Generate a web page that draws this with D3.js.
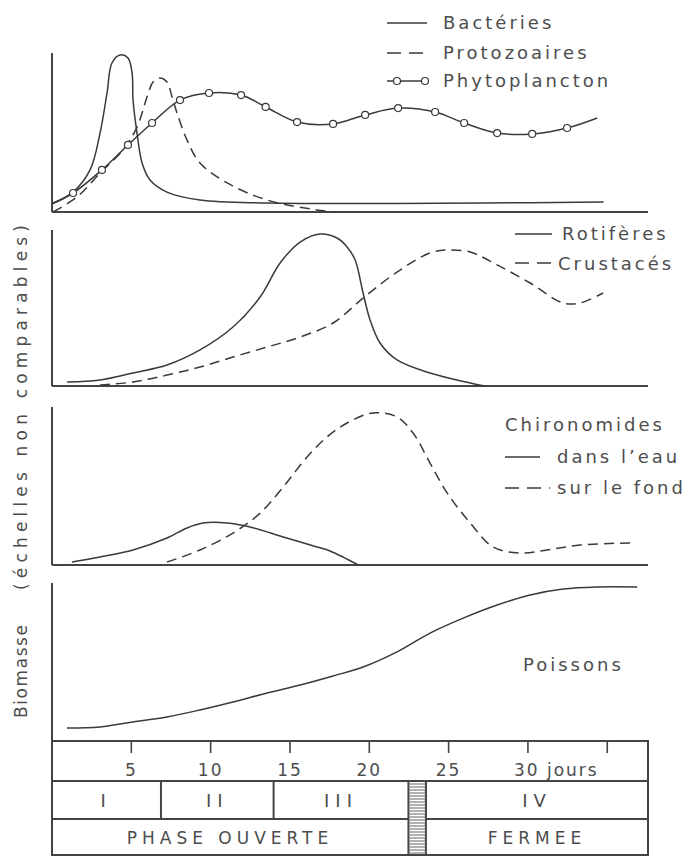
<!DOCTYPE html>
<html>
<head>
<meta charset="utf-8">
<script src="https://cdn.jsdelivr.net/npm/d3@7"></script>
<style>
    body { margin: 0; background: #fff; }
    text { font-family: "DejaVu Sans", sans-serif; fill: #4d4d4d; }
</style>
</head>
<body>
<script>
// data: x = jours, y = arbitrary units (0-100 per panel)
var bacteriesDays = [0.1, 1.36, 2.43, 3.06, 3.5, 3.81, 4.32, 4.82, 5.08, 5.14, 5.39, 5.71, 6.21, 7.28, 9.36, 13.6, 34.8]
  , bacteriesValues = [5.7, 12.7, 26.8, 50.3, 75.8, 94.9, 100, 98.1, 88.5, 71.3, 50.3, 31.2, 20.4, 12.7, 7.6, 5.7, 6.4]
  , protozoairesDays = [0.1, 1.61, 3.06, 4.5, 5.39, 6.02, 6.4, 6.84, 7.28, 7.6, 7.91, 8.54, 9.36, 11.07, 13.6, 16.74, 17.9]
  , protozoairesValues = [0, 9.6, 24.8, 39.5, 54.1, 73.2, 82.8, 85.4, 82.8, 73.2, 63.1, 45.9, 31.2, 18.5, 7.6, 1.3, 0]
  , phytoDays = [0.03, 1.36, 3.18, 4.82, 6.34, 8.1, 9.93, 11.95, 13.5, 15.48, 17.75, 19.77, 21.85, 24.18, 26.01, 28.09, 30.3, 32.5, 34.4]
  , phytoValues = [5.1, 12.1, 26.8, 42.7, 56.7, 71.3, 75.8, 74.5, 66.9, 57.3, 56.1, 61.8, 66.2, 63.7, 56.7, 50.3, 49.7, 53.5, 59.9]
  , rotiferesDays = [0.98, 3.06, 5.14, 7.28, 9.36, 11.44, 13.15, 14.41, 15.67, 16.93, 18.0, 18.63, 19.14, 19.64, 20.08, 20.71, 21.78, 23.86, 26.39, 27.3]
  , rotiferesValues = [2.6, 3.9, 8.4, 13.6, 23.4, 38.3, 57.8, 79.9, 93.5, 98.7, 96.1, 90.3, 81.8, 60.4, 42.9, 27.9, 16.9, 8.4, 1.9, 0]
  , crustacesDays = [3.06, 5.14, 7.28, 9.36, 11.44, 13.59, 15.67, 17.75, 19.64, 21.78, 23.86, 24.94, 26.39, 28.09, 30.17, 32.25, 33.32, 34.77]
  , crustacesValues = [0.6, 2.6, 7.1, 12.3, 18.8, 25.3, 31.8, 40.9, 57.1, 74, 86.4, 88.3, 87, 78.6, 66.9, 53.9, 53.9, 60.4]
  , eauDays = [1.29, 3.06, 5.14, 7.28, 8.54, 9.55, 11.07, 12.52, 14.6, 16.74, 17.56, 19.33]
  , eauValues = [1.9, 5.2, 9.7, 17.4, 23.9, 27.1, 27.1, 24.5, 18.1, 11.6, 9.0, 0]
  , fondDays = [7.28, 9.36, 11.44, 13.15, 14.6, 16.11, 17.37, 18.63, 20.27, 21.78, 22.79, 23.86, 24.94, 26.39, 27.84, 29.54, 31.24, 33.32, 36.47]
  , fondValues = [1.9, 9.7, 20.6, 33.5, 50.3, 69.7, 82.6, 91.6, 98.1, 95.5, 85.2, 65.8, 46.5, 27.1, 11.6, 7.7, 9.7, 12.9, 14.2]
  , poissonsDays = [0.98, 3.06, 5.14, 7.28, 9.36, 11.44, 13.59, 15.67, 17.75, 19.64, 21.78, 23.86, 25.95, 28.09, 30.17, 32.25, 34.4, 36.92]
  , poissonsValues = [8.3, 9.0, 12.2, 15.4, 19.9, 25, 30.8, 35.9, 41.7, 47.4, 57.1, 69.2, 78.8, 87.2, 93.6, 97.4, 98.7, 98.7]
  ;

var tickDays = [5, 10, 15, 20, 25, 30, 35]
  , tickLabels = ["5", "10", "15", "20", "25", "30 jours", ""]
  , stageNames = ["I", "II", "III", "IV"]
  , stageBounds = [[0, 6.9], [6.9, 14], [14, 22.5], [23.6, 37.6]]
  , phaseNames = ["PHASE OUVERTE", "FERMEE"]
  , phaseBounds = [[0, 22.5], [23.6, 37.6]]
  , gateBounds = [22.5, 23.6]
  ;

var width = 696
  , height = 857
  , ink = "#3a3a3a"
  , dash = "10,6"
  ;

var svg = d3.select("body").append("svg").attr("width", width).attr("height", height);

var x = d3.scaleLinear().domain([0, 37.6]).range([51.5, 648]);

// each panel: axis top, plot top (value 100), baseline (value 0)
var panels = [
    { axisTop: 53, top: 55, base: 212 },
    { axisTop: 230, top: 232, base: 386 },
    { axisTop: 407, top: 410, base: 565 },
    { axisTop: 583, top: 585, base: 741 }
];
panels.forEach(function (p) {
    p.y = d3.scaleLinear().domain([0, 100]).range([p.base, p.top]);
    svg.append("line").attr("x1", 52).attr("x2", 52).attr("y1", p.axisTop).attr("y2", p.base)
        .attr("stroke", "#444").attr("stroke-width", 2);
    svg.append("line").attr("x1", 52).attr("x2", 648).attr("y1", p.base).attr("y2", p.base)
        .attr("stroke", "#444").attr("stroke-width", 2);
});

function series (p, days, values, dashed) {
    var pts = days.map(function (d, i) { return [d, values[i]]; });
    var line = d3.line()
        .x(function (d) { return x(d[0]); })
        .y(function (d) { return p.y(d[1]); })
        .curve(d3.curveCatmullRom.alpha(0.5));
    svg.append("path").attr("d", line(pts))
        .attr("fill", "none").attr("stroke", ink).attr("stroke-width", 1.5)
        .attr("stroke-dasharray", dashed ? dash : null);
    return pts;
}

function label (tx, ty, str, size, spacing) {
    return svg.append("text").attr("x", tx).attr("y", ty)
        .attr("font-size", size || 18).attr("letter-spacing", spacing == null ? 3 : spacing)
        .text(str);
}

function key (x1, x2, ky, dashed) {
    svg.append("line").attr("x1", x1).attr("x2", x2).attr("y1", ky).attr("y2", ky)
        .attr("stroke", ink).attr("stroke-width", 1.5)
        .attr("stroke-dasharray", dashed ? "14,8" : null);
}

// panel 1
series(panels[0], bacteriesDays, bacteriesValues, false);
series(panels[0], protozoairesDays, protozoairesValues, true);
var phyto = series(panels[0], phytoDays, phytoValues, false);
svg.selectAll("circle.phyto").data(phyto.slice(1, -1)).enter().append("circle")
    .attr("class", "phyto")
    .attr("cx", function (d) { return x(d[0]); })
    .attr("cy", function (d) { return panels[0].y(d[1]); })
    .attr("r", 3.5).attr("fill", "#fff").attr("stroke", ink).attr("stroke-width", 1.2);

key(387, 427, 23, false);
label(443, 29, "Bactéries");
key(387, 427, 53, true);
label(443, 59, "Protozoaires");
key(387, 427, 81, false);
[397, 425].forEach(function (cx) {
    svg.append("circle").attr("cx", cx).attr("cy", 81).attr("r", 3.5)
        .attr("fill", "#fff").attr("stroke", ink).attr("stroke-width", 1.2);
});
label(443, 87, "Phytoplancton");

// panel 2
series(panels[1], rotiferesDays, rotiferesValues, false);
series(panels[1], crustacesDays, crustacesValues, true);
key(515, 552, 234, false);
label(562, 240, "Rotifères");
key(515, 552, 263, true);
label(558, 270, "Crustacés");

// panel 3
series(panels[2], eauDays, eauValues, false);
series(panels[2], fondDays, fondValues, true);
label(505, 431, "Chironomides");
key(505, 540, 457, false);
label(557, 463, "dans l’eau");
key(505, 550, 488, true);
label(557, 494, "sur le fond");

// panel 4
series(panels[3], poissonsDays, poissonsValues, false);
label(523, 671, "Poissons");

// y title
svg.append("text").attr("transform", "translate(27,718) rotate(-90)")
    .attr("font-size", 17).attr("textLength", 93).attr("lengthAdjust", "spacing")
    .text("Biomasse");
svg.append("text").attr("transform", "translate(27,590) rotate(-90)")
    .attr("font-size", 17).attr("textLength", 365).attr("lengthAdjust", "spacing")
    .text("(échelles non comparables)");

// time axis box
var axis = d3.axisBottom(x).tickValues(tickDays).tickSize(12)
    .tickFormat(function (d, i) { return tickLabels[i]; });
var gAxis = svg.append("g").attr("transform", "translate(0,741)").call(axis);
gAxis.select(".domain").remove();
gAxis.selectAll("line").attr("stroke", "#444").attr("stroke-width", 1.6);
gAxis.selectAll("text").attr("font-size", 17).attr("font-family", "DejaVu Sans").attr("fill", "#4d4d4d")
    .attr("dy", 0).attr("y", 35).attr("letter-spacing", 2)
    .attr("text-anchor", function (d) { return d === 30 ? "start" : "middle"; })
    .attr("dx", function (d) { return d === 30 ? -14 : 0; });

svg.append("rect").attr("x", 52).attr("y", 741).attr("width", 596).attr("height", 114)
    .attr("fill", "none").attr("stroke", "#444").attr("stroke-width", 2);
[781, 819].forEach(function (ly) {
    svg.append("line").attr("x1", 52).attr("x2", 648).attr("y1", ly).attr("y2", ly)
        .attr("stroke", "#444").attr("stroke-width", 2);
});

stageBounds.forEach(function (b, i) {
    if (i > 0) {
        svg.append("line").attr("x1", x(b[0])).attr("x2", x(b[0])).attr("y1", 781).attr("y2", 819)
            .attr("stroke", "#444").attr("stroke-width", 2);
    }
    label((x(b[0]) + x(b[1])) / 2, 807, stageNames[i], 18, 6).attr("text-anchor", "middle");
});
phaseBounds.forEach(function (b, i) {
    label((x(b[0]) + x(b[1])) / 2, 844, phaseNames[i], 17, 5).attr("text-anchor", "middle");
});

// hatched gate between the two phases
var gx0 = x(gateBounds[0]), gx1 = x(gateBounds[1]);
svg.append("rect").attr("x", gx0).attr("y", 781).attr("width", gx1 - gx0).attr("height", 74)
    .attr("fill", "#fff").attr("stroke", "#444").attr("stroke-width", 2);
d3.range(784, 855, 3).forEach(function (hy) {
    svg.append("line").attr("x1", gx0).attr("x2", gx1).attr("y1", hy).attr("y2", hy)
        .attr("stroke", "#666").attr("stroke-width", 1);
});
</script>
</body>
</html>
